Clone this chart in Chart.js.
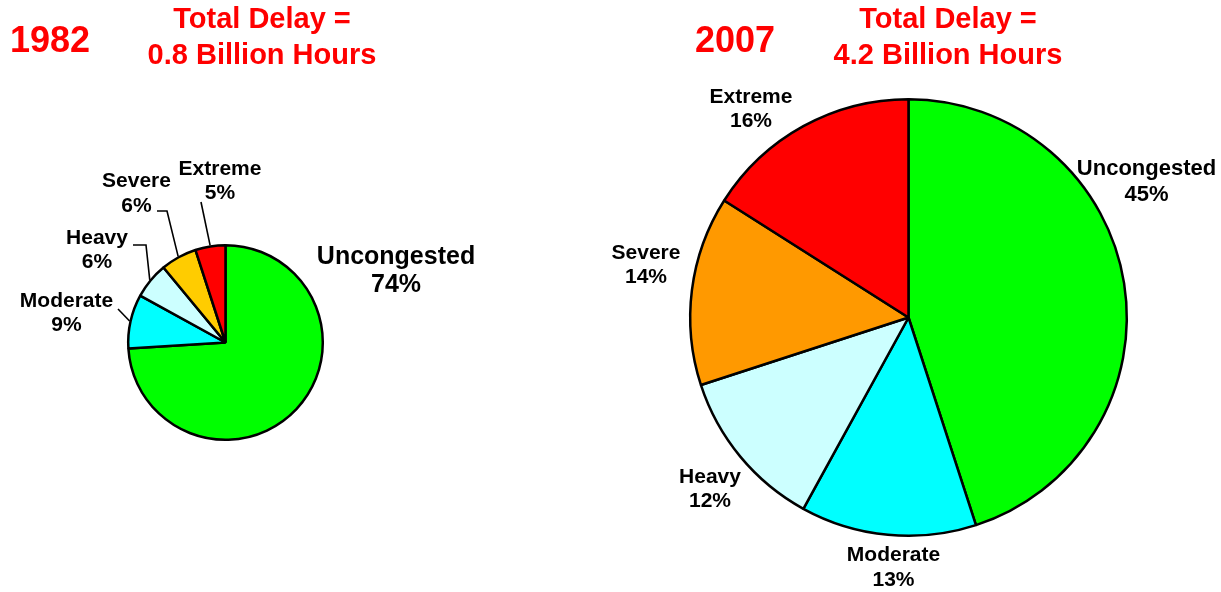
<!DOCTYPE html>
<html>
<head>
<meta charset="utf-8">
<title>Delay by congestion level, 1982 and 2007</title>
<script src="https://cdn.jsdelivr.net/npm/chart.js@4.4.1/dist/chart.umd.min.js"></script>
<style>
  html, body { margin: 0; padding: 0; background: #fff; }
  #wrap { position: relative; width: 1221px; height: 592px; overflow: hidden; }
  #wrap canvas { position: absolute; left: 0; top: 0; }
</style>
</head>
<body>
<div id="wrap">
  <canvas id="pie1982" width="1221" height="592"></canvas>
  <canvas id="pie2007" width="1221" height="592"></canvas>
</div>
<script>
/* ---- data ---- */
const categories = ['Uncongested', 'Moderate', 'Heavy', 'Severe', 'Extreme'];
const share1982 = [74, 9, 6, 6, 5];
const share2007 = [45, 13, 12, 14, 16];
const yearLabels = ['1982', '2007'];
const totalDelayBillions = ['0.8', '4.2'];

/* ---- styles ---- */
const FONT = "'Liberation Sans', Arial, Helvetica, sans-serif";
const colors1982 = ['#00ff00', '#00ffff', '#ccffff', '#ffcc00', '#ff0000'];
const colors2007 = ['#00ff00', '#00ffff', '#ccffff', '#ff9900', '#ff0000'];
const BORDER = 2.5;

// pie geometry (page pixels): centre and path radius
const layout1982 = {
  cx: 225.5, cy: 342.5, r: 97.3,
  year: { x: 50, y: 42 },
  total: { x: 262, y: 19 },
  labels: [
    { x: 396, y: 257, size: 25, gap: 28 },
    { x: 66.5, y: 301, size: 21, gap: 24, leader: [[118, 309]] },
    { x: 97, y: 238, size: 21, gap: 24, leader: [[146, 245], [133, 245]] },
    { x: 136.5, y: 181, size: 21, gap: 25, leader: [[167, 211], [157, 211]] },
    { x: 220, y: 169, size: 21, gap: 24, leader: [[201, 202]] }
  ]
};
const layout2007 = {
  cx: 908.5, cy: 317.5, r: 218.3,
  year: { x: 735, y: 42 },
  total: { x: 948, y: 19 },
  labels: [
    { x: 1146.5, y: 169, size: 22, gap: 26 },
    { x: 893.5, y: 555, size: 21, gap: 25 },
    { x: 710, y: 477, size: 21, gap: 24 },
    { x: 646, y: 253, size: 21, gap: 24 },
    { x: 751, y: 97, size: 21, gap: 24 }
  ]
};

/* ---- label / title plugin ---- */
const annotations = {
  id: 'annotations',
  afterDraw(chart, args, opts) {
    const ctx = chart.ctx;
    const lay = opts.layout;
    const values = chart.data.datasets[0].data;
    const meta = chart.getDatasetMeta(0);
    ctx.save();

    // titles
    ctx.fillStyle = '#ff0000';
    ctx.textAlign = 'center';
    ctx.textBaseline = 'middle';
    ctx.font = 'bold 36px ' + FONT;
    ctx.fillText(opts.year, lay.year.x, lay.year.y);
    ctx.font = 'bold 29px ' + FONT;
    ctx.fillText('Total Delay =', lay.total.x, lay.total.y + 1);
    ctx.fillText(opts.total + ' Billion Hours', lay.total.x, lay.total.y + 37);

    // slice labels
    ctx.fillStyle = '#000';
    lay.labels.forEach((lab, i) => {
      ctx.font = 'bold ' + lab.size + 'px ' + FONT;
      ctx.fillText(chart.data.labels[i], lab.x, lab.y);
      ctx.fillText(values[i] + '%', lab.x, lab.y + lab.gap);

      if (lab.leader) {
        const arc = meta.data[i];
        const mid = (arc.startAngle + arc.endAngle) / 2;
        const rr = arc.outerRadius + 1;
        ctx.beginPath();
        ctx.moveTo(arc.x + Math.cos(mid) * rr, arc.y + Math.sin(mid) * rr);
        lab.leader.forEach(p => ctx.lineTo(p[0], p[1]));
        ctx.strokeStyle = '#000';
        ctx.lineWidth = 1.6;
        ctx.stroke();
      }
    });
    ctx.restore();
  }
};

function makePie(id, values, colors, lay, year, total) {
  const W = 1221, H = 592;
  const side = 2 * lay.r + BORDER;
  return new Chart(document.getElementById(id), {
    type: 'pie',
    data: {
      labels: categories,
      datasets: [{
        data: values,
        backgroundColor: colors,
        borderColor: '#000',
        borderWidth: BORDER,
        hoverOffset: 0
      }]
    },
    options: {
      responsive: false,
      animation: false,
      events: [],
      layout: {
        padding: {
          left: lay.cx - side / 2,
          right: W - lay.cx - side / 2,
          top: lay.cy - side / 2,
          bottom: H - lay.cy - side / 2
        }
      },
      plugins: {
        legend: { display: false },
        tooltip: { enabled: false },
        annotations: { layout: lay, year, total }
      }
    },
    plugins: [annotations]
  });
}

makePie('pie1982', share1982, colors1982, layout1982, yearLabels[0], totalDelayBillions[0]);
makePie('pie2007', share2007, colors2007, layout2007, yearLabels[1], totalDelayBillions[1]);
</script>
</body>
</html>
